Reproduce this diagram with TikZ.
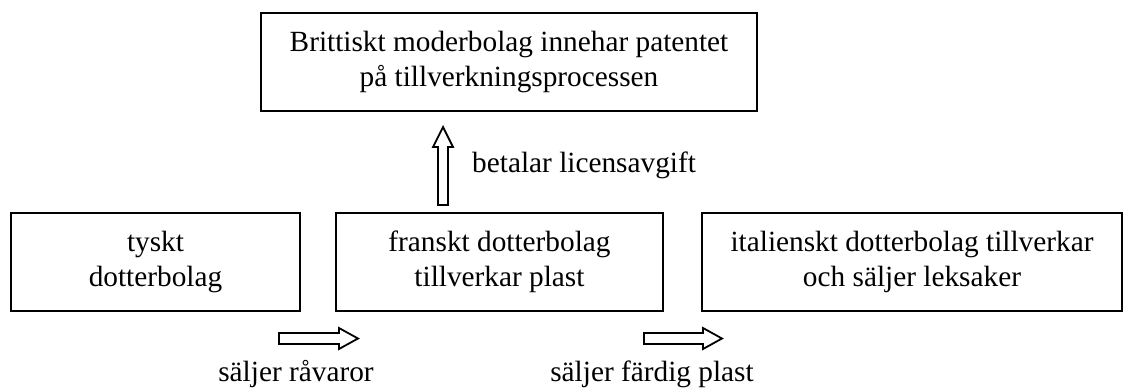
\documentclass[tikz,border=0pt]{standalone}
\usepackage{fontspec}
\setmainfont{Liberation Serif}
\begin{document}
\begin{tikzpicture}[x=1pt,y=-1pt,
  box/.style={draw, line width=2pt, inner sep=0pt, align=center, font=\fontsize{29.3}{35}\selectfont},
  lbl/.style={inner sep=0pt, font=\fontsize{29.3}{35}\selectfont},
  arrowline/.style={draw, line width=1.8pt, line join=miter, fill=white}]
\useasboundingbox (0,0) rectangle (1133,389);
\node[box, minimum width=496pt, minimum height=98pt] (brit) at (509,62) {Brittiskt moderbolag innehar patentet\\på tillverkningsprocessen};
\node[box, minimum width=289pt, minimum height=98pt] (tysk) at (155.5,262) {tyskt\\dotterbolag};
\node[box, minimum width=327pt, minimum height=98pt] (fransk) at (499.5,262) {franskt dotterbolag\\tillverkar plast};
\node[box, minimum width=420pt, minimum height=98pt] (ital) at (912,262) {italienskt dotterbolag tillverkar\\och säljer leksaker};
% up arrow
\draw[arrowline] (438,205) -- (438,147) -- (433,147) -- (443,127) -- (453,147) -- (448,147) -- (448,205) -- cycle;
\node[lbl, anchor=base west] (lic) at (472,172) {betalar licensavgift};
% right arrows
\draw[arrowline] (279,333) -- (339,333) -- (339,328) -- (358,338.5) -- (339,349) -- (339,344) -- (279,344) -- cycle;
\draw[arrowline] (644,333) -- (703,333) -- (703,328) -- (722,338.5) -- (703,349) -- (703,344) -- (644,344) -- cycle;
\node[lbl, anchor=base] (rav) at (296,381) {säljer råvaror};
\node[lbl, anchor=base] (fard) at (652,381) {säljer färdig plast};
\end{tikzpicture}
\end{document}
